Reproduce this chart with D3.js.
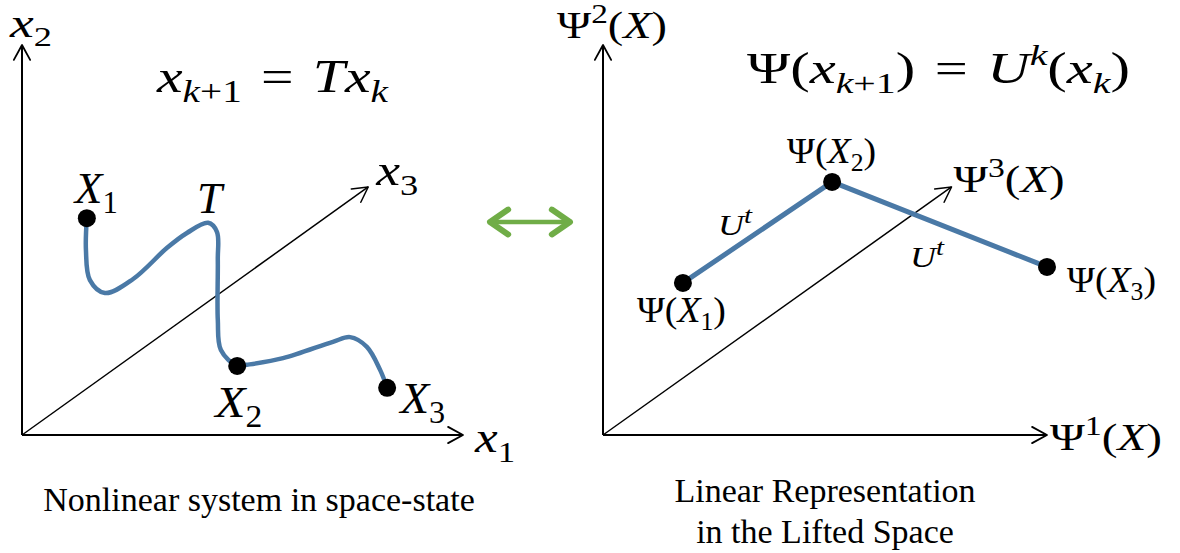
<!DOCTYPE html>
<html>
<head>
<meta charset="utf-8">
<script src="https://cdn.jsdelivr.net/npm/d3@7"></script>
<style>
  body { margin: 0; background: #fff; }
  svg { display: block; }
</style>
</head>
<body>
<svg id="canvas"></svg>
<script>
// Trajectory of the nonlinear system (axis units, 0..10 on each axis)
const curveX = [1.47, 1.45, 1.54, 1.88, 2.52, 3.29, 3.74, 4.22, 4.42, 4.44, 4.44, 4.51, 4.88, 5.10, 5.92, 7.05, 7.44, 7.82, 8.12, 8.28];
const curveY = [5.56, 4.74, 3.97, 3.64, 4.00, 4.80, 5.18, 5.44, 5.21, 4.49, 2.95, 2.18, 1.77, 1.80, 1.97, 2.39, 2.51, 2.26, 1.67, 1.21];
// States X1, X2, X3 on the trajectory
const stateX = [1.47, 4.88, 8.28];
const stateY = [5.56, 1.77, 1.21];
// Lifted states Psi(X1), Psi(X2), Psi(X3)
const liftX = [1.80, 5.16, 10.0];
const liftY = [3.90, 6.49, 4.31];
// third (depth) axis end point, same for both panels
const depthTip = [7.85, 6.36];

// math labels: [text, flags]  i = italic, s = subscript, p = superscript
const leftEquation = [["x", "i"], ["k", "si"], ["+1", "s"], ["\u2004=\u2004", ""], ["T", "i"], ["x", "i"], ["k", "si"]];
const rightEquation = [["Ψ(", ""], ["x", "i"], ["k", "si"], ["+1", "s"], [")\u2004=\u2004", ""], ["U", "i"], ["k", "pi"], ["(", ""], ["x", "i"], ["k", "si"], [")", ""]];
const stateLabels = [[["X", "i"], ["1", "s"]], [["X", "i"], ["2", "s"]], [["X", "i"], ["3", "s"]]];
const liftLabels = [[["Ψ(", ""], ["X", "i"], ["1", "s"], [")", ""]], [["Ψ(", ""], ["X", "i"], ["2", "s"], [")", ""]], [["Ψ(", ""], ["X", "i"], ["3", "s"], [")", ""]]];
const leftAxisLabels = [[["x", "i"], ["1", "s"]], [["x", "i"], ["2", "s"]], [["x", "i"], ["3", "s"]]];
const rightAxisLabels = [[["Ψ", ""], ["1", "p"], ["(", ""], ["X", "i"], [")", ""]], [["Ψ", ""], ["2", "p"], ["(", ""], ["X", "i"], [")", ""]], [["Ψ", ""], ["3", "p"], ["(", ""], ["X", "i"], [")", ""]]];
const operatorLabel = [["U", "i"], ["t", "pi"]];
const leftCaption = ["Nonlinear system in space-state"];
const rightCaption = ["Linear Representation", "in the Lifted Space"];

const W = 1180, H = 553;
const blue = "#4a79a6";
const green = "#70ad47";
const mathFont = "'Liberation Serif', 'DejaVu Serif', serif";

const svg = d3.select("#canvas").attr("width", W).attr("height", H);

const xL = d3.scaleLinear().domain([0, 10]).range([22, 463]);
const xR = d3.scaleLinear().domain([0, 10]).range([603, 1047]);
const y = d3.scaleLinear().domain([0, 10]).range([435, 45]);

// open chevron arrow head at (tx,ty) pointing away from (fx,fy)
const arrowHead = (g, fx, fy, tx, ty, len, ang, width, color) => {
   const a = Math.atan2(ty - fy, tx - fx);
   const pts = [
      [tx - len * Math.cos(a - ang), ty - len * Math.sin(a - ang)],
      [tx, ty],
      [tx - len * Math.cos(a + ang), ty - len * Math.sin(a + ang)]
   ];
   g.append("path").attr("d", d3.line()(pts))
      .attr("fill", "none").attr("stroke", color).attr("stroke-width", width)
      .attr("stroke-linecap", "round").attr("stroke-linejoin", "round");
};

// text with italic pieces and sub/superscripts; width stretches it to the reference size
const mathLabel = (x0, y0, parts, size, width, scriptRatio = 0.68) => {
   const t = svg.append("text").attr("x", x0).attr("y", y0)
      .attr("font-family", mathFont).attr("font-size", size).attr("fill", "#000");
   let shift = 0;
   parts.forEach(([txt, f]) => {
      const target = f.includes("s") ? size * 0.22 : f.includes("p") ? -size * 0.4 : 0;
      t.append("tspan")
         .attr("dy", target - shift)
         .attr("font-size", (f.includes("s") || f.includes("p")) ? size * scriptRatio : size)
         .attr("font-style", f.includes("i") ? "italic" : "normal")
         .style("white-space", "pre")
         .text(txt);
      shift = target;
   });
   if (width) t.attr("textLength", width).attr("lengthAdjust", "spacingAndGlyphs");
   return t;
};

// axes for one panel
const drawAxes = (x) => {
   const g = svg.append("g");
   const ox = x(0), oy = y(0);
   g.append("line").attr("x1", ox).attr("y1", oy).attr("x2", x(10)).attr("y2", oy)
      .attr("stroke", "#000").attr("stroke-width", 2);
   g.append("line").attr("x1", ox).attr("y1", oy).attr("x2", ox).attr("y2", y(10))
      .attr("stroke", "#000").attr("stroke-width", 2);
   g.append("line").attr("x1", ox).attr("y1", oy).attr("x2", x(depthTip[0])).attr("y2", y(depthTip[1]))
      .attr("stroke", "#000").attr("stroke-width", 1.5);
   arrowHead(g, ox, oy, x(10), oy, 17, 0.5, 1.8, "#000");
   arrowHead(g, ox, oy, ox, y(10), 17, 0.5, 1.8, "#000");
   arrowHead(g, ox, oy, x(depthTip[0]), y(depthTip[1]), 17, 0.5, 1.5, "#000");
};

drawAxes(xL);
drawAxes(xR);

// ---- left panel ----
const curvePts = curveX.map((d, i) => [xL(d), y(curveY[i])]);
svg.append("path")
   .attr("d", d3.line().curve(d3.curveCatmullRom.alpha(0.5))(curvePts))
   .attr("fill", "none").attr("stroke", blue).attr("stroke-width", 4.5)
   .attr("stroke-linecap", "round");

svg.selectAll(".state").data(stateX).enter().append("circle")
   .attr("class", "state")
   .attr("cx", d => xL(d)).attr("cy", (d, i) => y(stateY[i])).attr("r", 9)
   .attr("fill", "#000");

const stateOffsets = [[-12, -15], [-22, 51], [13, 25]];
const stateWidths = [43, 47, 45];
stateLabels.forEach((p, i) => {
   mathLabel(xL(stateX[i]) + stateOffsets[i][0], y(stateY[i]) + stateOffsets[i][1], p, 45, stateWidths[i]);
});
// T above the loop
mathLabel(xL(4.22) - 11, y(5.44) - 10, [["T", "i"]], 45);

mathLabel(xL(10) + 12, y(0) + 17, leftAxisLabels[0], 44, 40);
mathLabel(xL(0) - 12, y(10) - 8, leftAxisLabels[1], 41, 42);
mathLabel(xL(depthTip[0]) + 8, y(depthTip[1]) - 2, leftAxisLabels[2], 44, 42);

mathLabel(157, 92, leftEquation, 46, 231);

svg.append("text").attr("x", 259).attr("y", 511)
   .attr("text-anchor", "middle").attr("font-family", "'Liberation Serif', serif")
   .attr("font-size", 34).text(leftCaption[0]);

// ---- green double arrow ----
const ga = svg.append("g");
ga.append("line").attr("x1", 493).attr("y1", 222).attr("x2", 567).attr("y2", 222)
   .attr("stroke", green).attr("stroke-width", 4.5);
arrowHead(ga, 567, 222, 490, 222, 22, 0.6, 6, green);
arrowHead(ga, 493, 222, 570, 222, 22, 0.6, 6, green);

// ---- right panel ----
const liftPts = liftX.map((d, i) => [xR(d), y(liftY[i])]);
svg.append("path").attr("d", d3.line()(liftPts))
   .attr("fill", "none").attr("stroke", blue).attr("stroke-width", 5);

svg.selectAll(".lift").data(liftX).enter().append("circle")
   .attr("class", "lift")
   .attr("cx", d => xR(d)).attr("cy", (d, i) => y(liftY[i])).attr("r", 9)
   .attr("fill", "#000");

const liftOffsets = [[-46, 39], [-45, -19], [20, 25]];
liftLabels.forEach((p, i) => {
   mathLabel(xR(liftX[i]) + liftOffsets[i][0], y(liftY[i]) + liftOffsets[i][1], p, 36, 89);
});

mathLabel(718, 235, operatorLabel, 29, 34, 0.8);
mathLabel(910, 267, operatorLabel, 29, 34, 0.8);

mathLabel(xR(10) + 3, y(0) + 15, rightAxisLabels[0], 38, 112, 0.72);
mathLabel(xR(0) - 46, y(10) - 7, rightAxisLabels[1], 38, 110, 0.72);
mathLabel(xR(depthTip[0]) + 2, y(depthTip[1]) + 5, rightAxisLabels[2], 38, 111, 0.72);

mathLabel(747, 83, rightEquation, 44, 383);

svg.selectAll(".rcap").data(rightCaption).enter().append("text")
   .attr("class", "rcap")
   .attr("x", 825).attr("y", (d, i) => 502 + i * 41)
   .attr("text-anchor", "middle").attr("font-family", "'Liberation Serif', serif")
   .attr("font-size", 34).text(d => d);
</script>
</body>
</html>
